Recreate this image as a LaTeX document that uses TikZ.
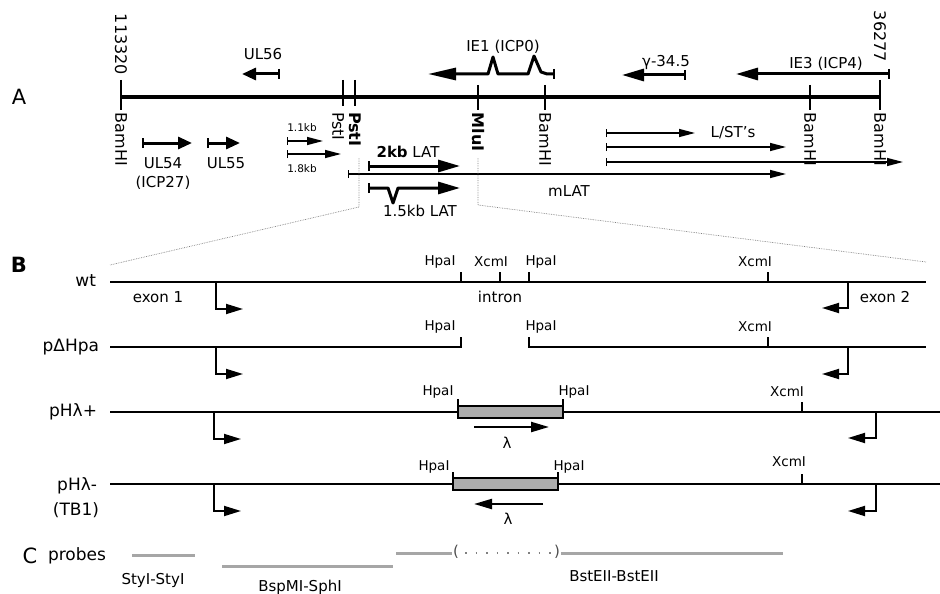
\documentclass[tikz,border=0pt]{standalone}
\usepackage{fontspec}
\setmainfont{DejaVu Sans}
\usetikzlibrary{arrows.meta}
\begin{document}
\begin{tikzpicture}[x=1pt,y=-1pt,
  every node/.style={inner sep=0pt, outer sep=0pt},
  lab/.style={font=\fontsize{15}{17}\selectfont},
  rowlab/.style={font=\fontsize{17}{19}\selectfont, anchor=east},
  site/.style={font=\fontsize{13.5}{15}\selectfont},
  kb/.style={font=\fontsize{10.5}{12}\selectfont},
  panel/.style={font=\fontsize{21}{24}\selectfont},
  vlab/.style={rotate=-90, anchor=west, font=\fontsize{16}{18}\selectfont},
  genome/.style={line width=4.5pt},
  tickline/.style={line width=1.3pt},
  genearrow/.style={line width=3pt, line join=round, {Bar[width=10pt,line width=2pt]}-{Triangle[length=#1,width=12pt]}},
  genearrow/.default=20pt,
  thinarrow/.style={line width=1.4pt, {Bar[width=8pt]}-{Triangle[length=16pt,width=8pt]}},
  seq/.style={line width=2.8pt},
  splice/.style={line width=1.8pt, -{Triangle[length=17pt,width=10pt]}},
  sitetick/.style={line width=1.5pt},
  insertbox/.style={draw, line width=2.2pt, fill=gray!65},
  lamarrow/.style={line width=2.2pt, -{Triangle[length=18pt,width=10pt]}},
  probe/.style={line width=3pt, gray!70},
  zoomline/.style={gray, line width=0.7pt, densely dotted},
]
\useasboundingbox (0,0) rectangle (940,594);

% ---------------- Panel A ----------------
\node[panel] (pA) at (19,97) {A};
\coordinate (gL) at (121,97);
\coordinate (gR) at (880,97);
\draw[genome] (gL) -- (gR);

% end points and sites
\draw[tickline] (121,80) -- (121,110);
\node[vlab] (n113320) at (121,14) {113320};
\node[vlab] (bam1) at (121,113) {BamHI};
\draw[tickline] (343,80) -- (343,106);
\draw[tickline] (355,80) -- (355,106);
\node[vlab] (pst1) at (338,112) {PstI};
\node[vlab, font=\fontsize{16}{18}\selectfont\bfseries] (pst2) at (355,112) {PstI};
\draw[tickline] (478,85) -- (478,110);
\node[vlab, font=\fontsize{16}{18}\selectfont\bfseries] (mlu) at (478,113) {MluI};
\draw[tickline] (545,85) -- (545,110);
\node[vlab] (bam2) at (545,113) {BamHI};
\draw[tickline] (810,85) -- (810,110);
\node[vlab] (bam3) at (810,113) {BamHI};
\draw[tickline] (880,80) -- (880,110);
\node[vlab] (n36277) at (880,11) {36277};
\node[vlab] (bam4) at (880,113) {BamHI};

% genes above the genome
\node[lab] (ul56) at (263,54) {UL56};
\draw[genearrow=14pt] (280,74) -- (242,74);
\node[lab] (ie1) at (503,47) {IE1 (ICP0)};
\draw[genearrow=28pt] (555,74) -- (547,74) -- (541,72) -- (534,56) -- (528,74) -- (498,74) -- (493,57) -- (488,74) -- (428,74);
\node[lab] (g345) at (666,62) {γ-34.5};
\draw[genearrow=22pt] (686,75) -- (622,75);
\node[lab] (ie3) at (826,64) {IE3 (ICP4)};
\draw[genearrow=22pt] (890,74) -- (736,74);

% genes below the genome
\draw[genearrow=14pt] (142,143) -- (192,143);
\node[lab] (ul54) at (163,163) {UL54};
\node[lab] (icp27) at (163,183) {(ICP27)};
\draw[genearrow=14pt] (207,143) -- (240,143);
\node[lab] (ul55) at (226,163) {UL55};
\node[kb] (k11) at (302,128) {1.1kb};
\draw[thinarrow] (287,141) -- (323,141);
\draw[thinarrow] (287,154) -- (341,154);
\node[kb] (k18) at (302,169) {1.8kb};

\node[lab] (lat2) at (408,152) {\textbf{2kb} LAT};
\draw[genearrow=22pt] (368,166) -- (460,166);
\draw[thinarrow] (348,174) -- (786,174);
\node[lab] (mlat) at (569,191) {mLAT};
\draw[genearrow=22pt] (368,188) -- (388,188) -- (393,203) -- (398,188) -- (460,188);
\node[lab] (lat15) at (420,211) {1.5kb LAT};

\draw[thinarrow] (606,133) -- (695,133);
\node[lab] (lst) at (733,133) {L/ST's};
\draw[thinarrow] (606,147) -- (786,147);
\draw[thinarrow] (606,162) -- (903,162);

% zoom lines
\draw[zoomline] (359,158) -- (359,207) -- (110,265);
\draw[zoomline] (478,158) -- (478,205) -- (926,262);

% ---------------- Panel B ----------------
\node[panel, font=\fontsize{21}{24}\selectfont\bfseries] (pB) at (19,265) {B};

% wt
\node[rowlab] (wt) at (96,281) {wt};
\draw[seq] (110,282) -- (926,282);
\draw[sitetick] (461,272) -- (461,282);
\draw[sitetick] (500,272) -- (500,282);
\draw[sitetick] (529,272) -- (529,282);
\draw[sitetick] (768,272) -- (768,282);
\node[site] at (440,262) {HpaI};
\node[site] at (491,262) {XcmI};
\node[site] at (541,262) {HpaI};
\node[site] at (755,262) {XcmI};
\node[lab] (ex1) at (158,297) {exon 1};
\node[lab] (intron) at (500,297) {intron};
\node[lab] (ex2) at (885,297) {exon 2};
\draw[splice] (216,282) -- (216,309) -- (243,309);
\draw[splice] (848,282) -- (848,308) -- (822,308);

% pDeltaHpa
\node[rowlab] (pdh) at (99,347) {pΔHpa};
\draw[seq] (110,347) -- (461,347) -- (461,337);
\draw[seq] (529,337) -- (529,347) -- (926,347);
\draw[sitetick] (768,337) -- (768,347);
\node[site] at (440,327) {HpaI};
\node[site] at (541,327) {HpaI};
\node[site] at (755,327) {XcmI};
\draw[splice] (216,347) -- (216,374) -- (243,374);
\draw[splice] (848,347) -- (848,374) -- (822,374);

% pH lambda +
\node[rowlab] (plp) at (97,412) {pHλ+};
\draw[seq] (110,412) -- (940,412);
\draw[sitetick] (458,399) -- (458,406);
\draw[sitetick] (563,399) -- (563,406);
\draw[sitetick] (802,402) -- (802,412);
\node[insertbox] (boxp) at (510.5,412) [minimum width=105pt, minimum height=12pt] {};
\node[site] at (438,392) {HpaI};
\node[site] at (574,392) {HpaI};
\node[site] at (787,392) {XcmI};
\draw[lamarrow] (474,427) -- (549,427);
\node[lab] (lamp) at (507,443) {λ};
\draw[splice] (214,412) -- (214,439) -- (241,439);
\draw[splice] (876,412) -- (876,438) -- (848,438);

% pH lambda -
\node[rowlab] (plm) at (97,486) {pHλ-};
\node[rowlab] (tb1) at (99,510) {(TB1)};
\draw[seq] (110,484) -- (940,484);
\draw[sitetick] (453,472) -- (453,478);
\draw[sitetick] (558,472) -- (558,478);
\draw[sitetick] (802,474) -- (802,484);
\node[insertbox] (boxm) at (505.5,484) [minimum width=105pt, minimum height=12pt] {};
\node[site] at (434,467) {HpaI};
\node[site] at (569,467) {HpaI};
\node[site] at (789,462) {XcmI};
\draw[lamarrow] (543,504) -- (474,504);
\node[lab] (lamm) at (508,519) {λ};
\draw[splice] (214,484) -- (214,511) -- (241,511);
\draw[splice] (876,484) -- (876,511) -- (848,511);

% ---------------- Panel C ----------------
\node[panel] (pC) at (30,556) {C};
\node[font=\fontsize{17}{19}\selectfont] (probes) at (77,556) {probes};
\draw[probe] (132,555) -- (195,555);
\node[lab] (sty) at (153,580) {StyI-StyI};
\draw[probe] (222,566) -- (393,566);
\node[lab] (bsp) at (300,587) {BspMI-SphI};
\draw[probe] (396,553) -- (452,553);
\node[lab, text=gray!60!black] (lp) at (456,552) {(};
\draw[gray, line width=1.5pt, dash pattern=on 1.5pt off 9pt] (465,553) -- (552,553);
\node[lab, text=gray!60!black] (rp) at (557,552) {)};
\draw[probe] (561,553) -- (783,553);
\node[lab] (bst) at (614,576) {BstEII-BstEII};
\end{tikzpicture}
\end{document}
